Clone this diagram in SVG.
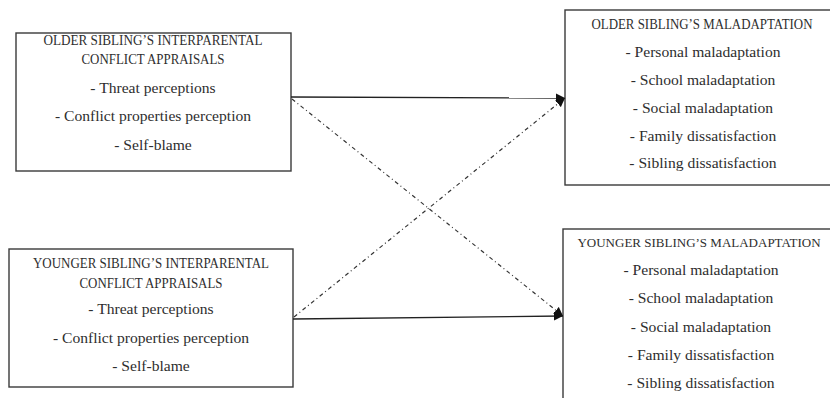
<svg xmlns="http://www.w3.org/2000/svg" width="830" height="398" viewBox="0 0 830 398">
<defs>
<style>
.box{fill:#fff;stroke:#3a3a3a;stroke-width:1.4}
.t{font-family:"Liberation Serif","Times New Roman",serif;font-size:13.8px;fill:#2e2e2e;text-anchor:middle}
.i{font-size:15.6px}
.h{font-size:13px}
.solid{stroke:#222;stroke-width:1.3;fill:none}
.dd{stroke:#333;stroke-width:1.2;fill:none;stroke-dasharray:4 3 1 3}
</style>
<marker id="ah" viewBox="0 0 10 10" refX="10" refY="5" markerWidth="9" markerHeight="9" markerUnits="userSpaceOnUse" orient="auto">
<path d="M0,0 L10,5 L0,10 z" fill="#111"/>
</marker>
</defs>
<rect width="830" height="398" fill="#fff"/>
<g id="older-appraisals">
<rect class="box" x="16" y="33" width="275" height="138"/>
<text class="t" x="153" y="45" textLength="219" lengthAdjust="spacingAndGlyphs">OLDER SIBLING’S INTERPARENTAL</text>
<text class="t" x="153" y="64" textLength="143" lengthAdjust="spacingAndGlyphs">CONFLICT APPRAISALS</text>
<text class="t i" x="153" y="93">- Threat perceptions</text>
<text class="t i" x="153" y="121">- Conflict properties perception</text>
<text class="t i" x="153" y="150">- Self-blame</text>
</g>
<g id="younger-appraisals">
<rect class="box" x="9" y="249" width="284" height="138"/>
<text class="t" x="151" y="268" textLength="236" lengthAdjust="spacingAndGlyphs">YOUNGER SIBLING’S INTERPARENTAL</text>
<text class="t" x="151" y="288" textLength="143" lengthAdjust="spacingAndGlyphs">CONFLICT APPRAISALS</text>
<text class="t i" x="151" y="314">- Threat perceptions</text>
<text class="t i" x="151" y="343">- Conflict properties perception</text>
<text class="t i" x="151" y="371">- Self-blame</text>
</g>
<g id="older-maladaptation">
<rect class="box" x="565" y="10" width="266" height="175"/>
<text class="t" x="702" y="29" textLength="221" lengthAdjust="spacingAndGlyphs">OLDER SIBLING’S MALADAPTATION</text>
<text class="t i" x="703" y="57">- Personal maladaptation</text>
<text class="t i" x="703" y="85">- School maladaptation</text>
<text class="t i" x="703" y="113">- Social maladaptation</text>
<text class="t i" x="703" y="141">- Family dissatisfaction</text>
<text class="t i" x="703" y="168">- Sibling dissatisfaction</text>
</g>
<g id="younger-maladaptation">
<rect class="box" x="563" y="229" width="268" height="171"/>
<text class="t h" x="699" y="247">YOUNGER SIBLING’S MALADAPTATION</text>
<text class="t i" x="701" y="275">- Personal maladaptation</text>
<text class="t i" x="701" y="303">- School maladaptation</text>
<text class="t i" x="701" y="332">- Social maladaptation</text>
<text class="t i" x="701" y="360">- Family dissatisfaction</text>
<text class="t i" x="701" y="388">- Sibling dissatisfaction</text>
</g>
<g id="connectors">
<line class="solid" x1="291" y1="97" x2="565" y2="98" marker-end="url(#ah)"/>
<line class="solid" x1="293" y1="319" x2="563" y2="316" marker-end="url(#ah)"/>
<line class="dd" x1="292" y1="99" x2="563" y2="316" marker-end="url(#ah)"/>
<line class="dd" x1="294" y1="317" x2="565" y2="98" marker-end="url(#ah)"/>
</g>
</svg>
